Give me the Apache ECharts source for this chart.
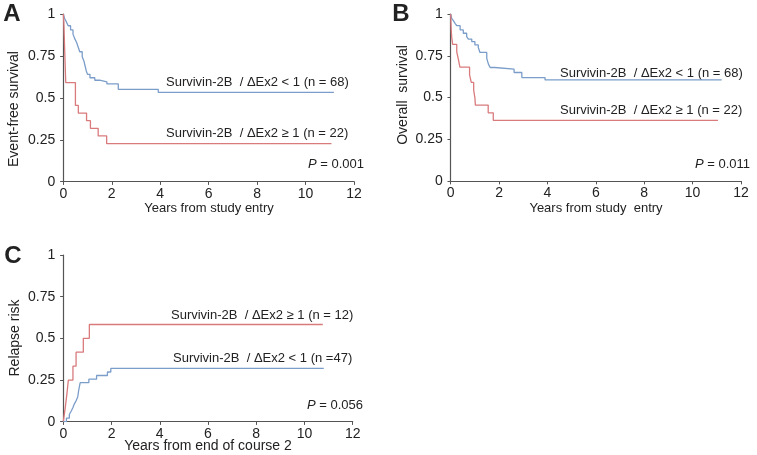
<!DOCTYPE html>
<html><head><meta charset="utf-8">
<script src="https://cdn.jsdelivr.net/npm/echarts@6/dist/echarts.min.js"></script>
<style>html,body{margin:0;padding:0;background:#fff}#c{width:757px;height:455px}</style>
</head><body><div id="c"></div>
<script>
// ---- data ----
var xTicks = [0, 2, 4, 6, 8, 10, 12];
var yTicks = [0, 0.25, 0.5, 0.75, 1];

// Panel A: event-free survival
var aLowT = [0, 0.05, 0.12, 0.2, 0.3, 0.4, 0.48, 0.55, 0.62, 0.68, 0.78, 0.85, 0.9, 0.95, 1.0, 1.1, 1.3, 1.5, 1.8, 2.27, 3.92, 11.17];
var aLowS = [1, 0.975, 0.955, 0.93, 0.905, 0.88, 0.85, 0.83, 0.8, 0.775, 0.745, 0.72, 0.69, 0.66, 0.64, 0.62, 0.605, 0.595, 0.583, 0.551, 0.533, 0.533];
var aHighT = [0, 0.02, 0.04, 0.06, 0.08, 0.1, 0.5, 0.62, 0.96, 1.12, 1.44, 1.79, 11.07];
var aHighS = [1, 0.955, 0.864, 0.773, 0.682, 0.591, 0.455, 0.409, 0.364, 0.318, 0.273, 0.227, 0.227];

// Panel B: overall survival
var bLowT = [0, 0.04, 0.11, 0.18, 0.25, 0.39, 0.52, 0.66, 0.73, 0.87, 1.0, 1.14, 1.21, 1.49, 1.56, 1.63, 1.83, 2.62, 2.94, 3.9, 11.2];
var bLowS = [1, 0.974, 0.96, 0.944, 0.93, 0.905, 0.885, 0.865, 0.85, 0.835, 0.815, 0.8, 0.77, 0.735, 0.7, 0.68, 0.67, 0.65, 0.62, 0.606, 0.606];
var bHighT = [0, 0.01, 0.02, 0.04, 0.08, 0.25, 0.32, 0.38, 0.78, 0.85, 0.95, 1.0, 1.02, 1.55, 1.76, 11.05];
var bHighS = [1, 0.955, 0.909, 0.864, 0.818, 0.773, 0.727, 0.682, 0.636, 0.591, 0.545, 0.5, 0.455, 0.409, 0.364, 0.364];

// Panel C: relapse risk
var cHighT = [0, 0.08, 0.15, 0.21, 0.4, 0.53, 0.83, 1.08, 10.76];
var cHighS = [0, 0.083, 0.167, 0.25, 0.333, 0.417, 0.5, 0.583, 0.583];
var cLowT = [0, 0.13, 0.25, 0.33, 0.4, 0.46, 0.54, 0.6, 0.64, 0.7, 1.06, 1.38, 1.83, 1.97, 10.8];
var cLowS = [0, 0.021, 0.043, 0.064, 0.085, 0.107, 0.128, 0.15, 0.19, 0.234, 0.255, 0.277, 0.298, 0.32, 0.32];

var labels = {
  aLow: 'Survivin-2B  / \u0394Ex2 < 1 (n = 68)',
  aHigh: 'Survivin-2B  / \u0394Ex2 \u2265 1 (n = 22)',
  bLow: 'Survivin-2B  / \u0394Ex2 < 1 (n = 68)',
  bHigh: 'Survivin-2B  / \u0394Ex2 \u2265 1 (n = 22)',
  cHigh: 'Survivin-2B  / \u0394Ex2 \u2265 1 (n = 12)',
  cLow: 'Survivin-2B  / \u0394Ex2 < 1 (n =47)'
};
var pValues = ['0.001', '0.011', '0.056'];
var yNames = ['Event-free survival', 'Overall  survival', 'Relapse risk'];
var xNames = ['Years from study entry', 'Years from study  entry', 'Years from end of course 2'];

// ---- chart ----
var BLUE = '#7b9dc9', RED = '#d97a7d', AX = '#555', TXT = '#222';
var FONT = 'Liberation Sans, Arial, sans-serif';
function zip(t, s) { return t.map(function (v, i) { return [v, s[i]]; }); }

var grids = [
  { left: 63.3, top: 14, width: 290.7, height: 167.7 },
  { left: 450.7, top: 14, width: 290.3, height: 167.2 },
  { left: 63.3, top: 255, width: 289.4, height: 166.7 }
];
var xAxes = [], yAxes = [];
grids.forEach(function (g, i) {
  xAxes.push({ gridIndex: i, type: 'value', min: xTicks[0], max: xTicks[xTicks.length - 1], interval: 2,
    axisLine: { lineStyle: { color: AX, width: 1.2 } }, splitLine: { show: false },
    axisTick: { length: 3, lineStyle: { color: AX } },
    axisLabel: { color: TXT, fontSize: 14, fontFamily: FONT, margin: 5 } });
  xAxes.push({ gridIndex: i, type: 'value', min: xTicks[0], max: xTicks[xTicks.length - 1], interval: 2,
    axisLine: { show: false }, splitLine: { show: false },
    axisTick: { inside: true, length: 3, lineStyle: { color: AX } }, axisLabel: { show: false } });
  yAxes.push({ gridIndex: i, type: 'value', min: yTicks[0], max: yTicks[yTicks.length - 1], interval: 0.25,
    axisLine: { show: true, lineStyle: { color: AX, width: 1.2 } }, splitLine: { show: false },
    axisTick: { show: true, length: 3, lineStyle: { color: AX } },
    axisLabel: { color: TXT, fontSize: 14, fontFamily: FONT, margin: 8 } });
  yAxes.push({ gridIndex: i, type: 'value', min: yTicks[0], max: yTicks[yTicks.length - 1], interval: 0.25,
    axisLine: { show: false }, splitLine: { show: false },
    axisTick: { show: true, inside: true, length: 3, lineStyle: { color: AX } }, axisLabel: { show: false } });
});

function line(data, color, gi) {
  return { type: 'line', xAxisIndex: gi * 2, yAxisIndex: gi * 2, data: data, step: 'end',
    showSymbol: false, symbol: 'none', lineStyle: { color: color, width: 1.3 }, silent: true, animation: false };
}
var series = [
  line(zip(aLowT, aLowS), BLUE, 0), line(zip(aHighT, aHighS), RED, 0),
  line(zip(bLowT, bLowS), BLUE, 1), line(zip(bHighT, bHighS), RED, 1),
  line(zip(cHighT, cHighS), RED, 2), line(zip(cLowT, cLowS), BLUE, 2)
];

function txt(x, y, s, opt) {
  opt = opt || {};
  return { type: 'text', x: x, y: y, rotation: opt.rot || 0,
    style: { text: s, fill: TXT, font: (opt.weight || 'normal') + ' ' + (opt.size || 13) + 'px ' + FONT,
      textAlign: opt.align || 'left', textVerticalAlign: 'middle' } };
}
function ptxt(xr, y, v) {
  return { type: 'text', x: xr, y: y, style: { rich: { i: { fontStyle: 'italic', fontSize: 13, fontFamily: FONT, fill: TXT }, n: { fontSize: 13, fontFamily: FONT, fill: TXT } },
    text: '{i|P}{n| = ' + v + '}', textAlign: 'right', textVerticalAlign: 'middle' } };
}
var graphic = [
  txt(12, 14, 'A', { weight: 'bold', size: 24, align: 'center' }),
  txt(401, 14, 'B', { weight: 'bold', size: 24, align: 'center' }),
  txt(13, 256, 'C', { weight: 'bold', size: 24, align: 'center' }),
  txt(166, 82, labels.aLow), txt(166, 133, labels.aHigh),
  txt(560, 73, labels.bLow), txt(560, 110, labels.bHigh),
  txt(171, 315, labels.cHigh), txt(173, 358, labels.cLow),
  ptxt(364, 164, pValues[0]), ptxt(750, 164, pValues[1]), ptxt(363, 405, pValues[2]),
  txt(14, 109, yNames[0], { rot: Math.PI / 2, align: 'center', size: 14 }),
  txt(403, 95, yNames[1], { rot: Math.PI / 2, align: 'center', size: 14 }),
  txt(15, 338, yNames[2], { rot: Math.PI / 2, align: 'center', size: 14 }),
  txt(209, 208, xNames[0], { align: 'center' }),
  txt(596, 208, xNames[1], { align: 'center' }),
  txt(208, 446, xNames[2], { align: 'center', size: 14 })
];

var chart = echarts.init(document.getElementById('c'), null, { renderer: 'canvas' });
chart.setOption({ animation: false, grid: grids, xAxis: xAxes, yAxis: yAxes, series: series, graphic: graphic });
</script></body></html>
